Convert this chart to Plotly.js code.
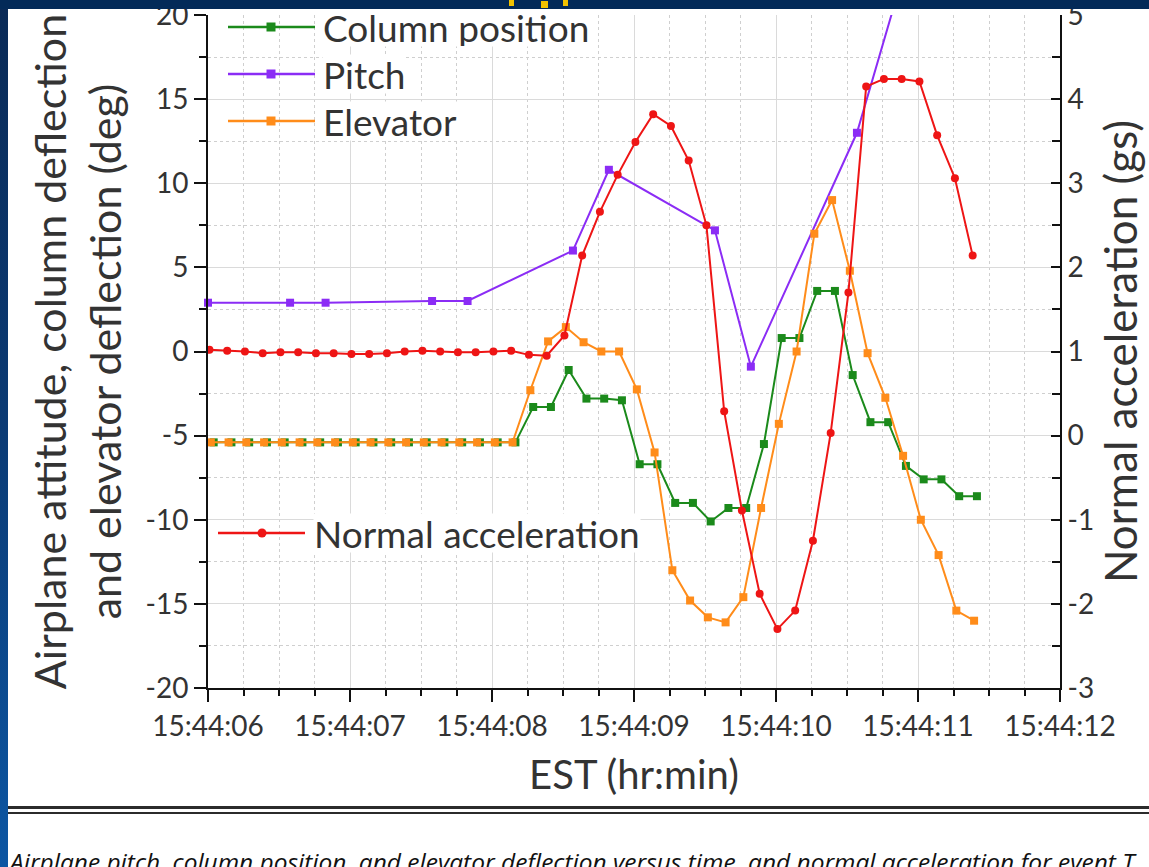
<!DOCTYPE html>
<html>
<head>
<meta charset="utf-8">
<script src="https://cdn.plot.ly/plotly-3.0.1.min.js"></script>
<style>
  html, body { margin:0; padding:0; width:1149px; height:867px; overflow:hidden; }
  body { background: linear-gradient(180deg, #0a2a56 0%, #0b3b75 50%, #0c56a3 100%); position:relative; }
  #topbar { position:absolute; left:0; top:0; width:1149px; height:9px; background:#032a58; }
  .yel { position:absolute; background:#f2c200; }
  #panel { position:absolute; left:8px; top:9px; width:1141px; height:858px; background:#ffffff; overflow:hidden; }
  #chart { position:absolute; left:0; top:0; width:1141px; height:858px; }
  .rule { position:absolute; left:0; width:1141px; background:#2b2b2b; }
  #caption { position:absolute; left:2px; top:836px; white-space:nowrap; font-family:"Open Sans", "Noto Sans", sans-serif; font-style:italic; font-size:24.5px; color:#111; }
</style>
</head>
<body>
<div id="topbar"></div>
<div class="yel" style="left:509px;top:0;width:5px;height:6px;"></div>
<div class="yel" style="left:541px;top:1px;width:7px;height:7px;"></div>
<div class="yel" style="left:563px;top:0;width:5px;height:6px;"></div>
<div id="panel">
  <div id="chart"></div>
  <div class="rule" style="top:797px;height:3px;"></div>
  <div class="rule" style="top:803px;height:2px;"></div>
  <div id="caption">Airplane pitch, column position, and elevator deflection versus time, and normal acceleration for event T</div>
</div>
<script>
// ---- data (seconds after 15:44:00) ----
const accT = [6.010, 6.135, 6.260, 6.385, 6.510, 6.635, 6.760, 6.885, 7.010, 7.135, 7.260, 7.385, 7.510, 7.635, 7.760, 7.885,
  8.010, 8.135, 8.260, 8.385, 8.510, 8.635, 8.760, 8.885, 9.010, 9.135, 9.260, 9.385, 9.510, 9.635, 9.760, 9.885,
  10.010, 10.135, 10.260, 10.385, 10.510, 10.635, 10.760, 10.885, 11.010, 11.135, 11.260, 11.385];
const accG = [1.02, 1.01, 1.00, 0.98, 0.99, 0.99, 0.98, 0.98, 0.97, 0.97, 0.98, 1.00, 1.01, 1.00, 0.99, 0.99,
  1.00, 1.01, 0.96, 0.95, 1.19, 2.14, 2.66, 3.10, 3.49, 3.82, 3.68, 3.27, 2.50, 0.29, -0.89, -1.88,
  -2.30, -2.08, -1.25, 0.03, 1.70, 4.15, 4.24, 4.24, 4.21, 3.57, 3.06, 2.14];

const elevT = [6.020, 6.145, 6.270, 6.395, 6.520, 6.645, 6.770, 6.895, 7.020, 7.145, 7.270, 7.395, 7.520, 7.645, 7.770, 7.895,
  8.020, 8.145, 8.270, 8.395, 8.520, 8.645, 8.770, 8.895, 9.020, 9.145, 9.270, 9.395, 9.520, 9.645, 9.770, 9.895,
  10.020, 10.145, 10.270, 10.395, 10.520, 10.645, 10.770, 10.895, 11.020, 11.145, 11.270, 11.395];
const elevatorDeg = [-5.4, -5.4, -5.4, -5.4, -5.4, -5.4, -5.4, -5.4, -5.4, -5.4, -5.4, -5.4, -5.4, -5.4, -5.4, -5.4,
  -5.4, -5.4, -2.3, 0.6, 1.45, 0.55, 0.0, 0.0, -2.25, -6.0, -13.0, -14.8, -15.8, -16.1, -14.6, -9.3,
  -4.3, 0.0, 7.0, 9.0, 4.8, -0.1, -2.75, -6.2, -10.0, -12.1, -15.4, -16.0];

const colT = [6.040, 6.165, 6.290, 6.415, 6.540, 6.665, 6.790, 6.915, 7.040, 7.165, 7.290, 7.415, 7.540, 7.665, 7.790, 7.915,
  8.040, 8.165, 8.290, 8.415, 8.540, 8.665, 8.790, 8.915, 9.040, 9.165, 9.290, 9.415, 9.540, 9.665, 9.790, 9.915,
  10.040, 10.165, 10.290, 10.415, 10.540, 10.665, 10.790, 10.915, 11.040, 11.165, 11.290, 11.415];
const columnDeg = [-5.4, -5.4, -5.4, -5.4, -5.4, -5.4, -5.4, -5.4, -5.4, -5.4, -5.4, -5.4, -5.4, -5.4, -5.4, -5.4,
  -5.4, -5.4, -3.3, -3.3, -1.1, -2.8, -2.8, -2.9, -6.7, -6.7, -9.0, -9.0, -10.1, -9.3, -9.3, -5.5,
  0.8, 0.8, 3.6, 3.6, -1.4, -4.2, -4.2, -6.8, -7.6, -7.6, -8.6, -8.6];

const pitchT = [6.000, 6.578, 6.828, 7.578, 7.828, 8.570, 8.823, 9.570, 9.823, 10.570, 10.823];
const pitchDeg = [2.9, 2.9, 2.9, 3.0, 3.0, 6.0, 10.8, 7.2, -0.9, 13.0, 20.3];

const seriesNames = ['Column position', 'Pitch', 'Elevator', 'Normal acceleration'];
const xRange = [6, 12];
const leftTickVals = [-20, -15, -10, -5, 0, 5, 10, 15, 20];
const leftTickText = ['-20', '-15', '-10', '-5', '0', '5', '10', '15', '20'];
const rightTickVals = [-3, -2, -1, 0, 1, 2, 3, 4, 5];
const rightTickText = ['-3', '-2', '-1', '0', '1', '2', '3', '4', '5'];

// ---- helpers ----
function ts(s) {
  const whole = Math.floor(s + 1e-9);
  const ms = Math.round((s - whole) * 1000);
  return '2000-01-01 15:44:' + String(whole).padStart(2, '0') + '.' + String(ms).padStart(3, '0');
}
const C = { col: '#1b8a1b', pitch: '#8b2cf5', elev: '#ff8c1a', acc: '#ee1515' };
const FONT = 'Lato, "Open Sans", sans-serif';
const TXT = '#333333';

const traces = [
  { name: seriesNames[1], x: pitchT.map(ts), y: pitchDeg, yaxis: 'y', mode: 'lines+markers',
    line: { color: C.pitch, width: 2 }, marker: { symbol: 'square', size: 8, color: C.pitch }, cliponaxis: false },
  { name: seriesNames[0], x: colT.map(ts), y: columnDeg, yaxis: 'y', mode: 'lines+markers',
    line: { color: C.col, width: 2 }, marker: { symbol: 'square', size: 8, color: C.col } },
  { name: seriesNames[2], x: elevT.map(ts), y: elevatorDeg, yaxis: 'y', mode: 'lines+markers',
    line: { color: C.elev, width: 2 }, marker: { symbol: 'square', size: 8, color: C.elev } },
  { name: seriesNames[3], x: accT.map(ts), y: accG, yaxis: 'y2', mode: 'lines+markers',
    line: { color: C.acc, width: 2 }, marker: { symbol: 'circle', size: 8, color: C.acc } }
];

// plot area in panel pixels
const PL = 200, PR = 1052, PT = 6, PB = 679;
const W = 1141, H = 858;
const px = v => (v - (PL + 8)) / (PR - PL);   // page x -> paper
const py = v => ((PB + 9) - v) / (PB - PT);   // page y -> paper

const shapes = [];
const annotations = [];
function legendItem(name, color, symbol, lineX0, lineX1, mx, textX, rowY) {
  shapes.push({ type: 'line', xref: 'paper', yref: 'paper', x0: px(lineX0), x1: px(lineX1), y0: py(rowY), y1: py(rowY),
    line: { color: color, width: 2.5 } });
  shapes.push({ type: symbol === 'circle' ? 'circle' : 'rect', xref: 'paper', yref: 'paper',
    xsizemode: 'pixel', ysizemode: 'pixel', xanchor: px(mx), yanchor: py(rowY),
    x0: -4.5, x1: 4.5, y0: -4.5, y1: 4.5, fillcolor: color, line: { color: color, width: 0 } });
  annotations.push({ xref: 'paper', yref: 'paper', x: px(textX), y: py(rowY), xanchor: 'left', yanchor: 'middle',
    text: name, showarrow: false, bgcolor: '#ffffff', borderpad: 0, height: 38, valign: 'middle',
    font: { family: FONT, size: 37, color: TXT } });
}
legendItem(seriesNames[0], C.col, 'square', 228, 315, 271, 322, 27);
legendItem(seriesNames[1], C.pitch, 'square', 228, 315, 271, 322, 74);
legendItem(seriesNames[2], C.elev, 'square', 228, 315, 271, 322, 121);
legendItem(seriesNames[3], C.acc, 'circle', 218, 305, 262, 313, 533);

const minorGrid = '#cfcfcf';
const majorGrid = '#dadada';

const layout = {
  width: W, height: H,
  margin: { l: PL, r: W - PR, t: PT, b: H - PB, pad: 0 },
  paper_bgcolor: 'rgba(0,0,0,0)', plot_bgcolor: '#ffffff',
  showlegend: false,
  font: { family: FONT, color: TXT },
  xaxis: {
    type: 'date', range: [ts(xRange[0]), ts(xRange[1])],
    tick0: ts(6), dtick: 1000, tickformat: '%H:%M:%S',
    ticks: 'outside', ticklen: 12, tickwidth: 2, tickcolor: '#111',
    showline: true, linecolor: '#111', linewidth: 2,
    showgrid: true, gridcolor: majorGrid, gridwidth: 1, zeroline: false,
    tickfont: { family: FONT, size: 28, color: TXT }, ticklabeloverflow: 'allow',
    minor: { dtick: 250, ticks: 'outside', ticklen: 6, tickwidth: 2, tickcolor: '#111',
      showgrid: true, gridcolor: minorGrid, griddash: 'dot', gridwidth: 1 },
    title: { text: 'EST (hr:min)', font: { family: FONT, size: 40, color: TXT }, standoff: 20 },
    automargin: false
  },
  yaxis: {
    range: [-20, 20], tickmode: 'array', tickvals: leftTickVals, ticktext: leftTickText,
    ticks: 'outside', ticklen: 12, tickwidth: 2, tickcolor: '#111',
    showline: true, linecolor: '#111', linewidth: 2,
    showgrid: true, gridcolor: majorGrid, gridwidth: 1, zeroline: false,
    tickfont: { family: FONT, size: 28, color: TXT }, ticklabeloverflow: 'allow',
    minor: { tickmode: 'linear', tick0: 0, dtick: 2.5, ticks: 'outside', ticklen: 7, tickwidth: 2, tickcolor: '#111',
      showgrid: true, gridcolor: minorGrid, griddash: 'dot', gridwidth: 1 },
    title: { text: 'Airplane attitude, column deflection<br>and elevator deflection (deg)',
      font: { family: FONT, size: 43, color: TXT }, standoff: 10 },
    automargin: false
  },
  yaxis2: {
    overlaying: 'y', side: 'right', range: [-3, 5], tickmode: 'array', tickvals: rightTickVals, ticktext: rightTickText,
    ticks: 'inside', ticklen: 9, tickwidth: 2, tickcolor: '#111',
    showline: true, linecolor: '#111', linewidth: 2,
    showgrid: false, zeroline: false,
    tickfont: { family: FONT, size: 28, color: TXT }, ticklabeloverflow: 'allow',
    minor: { tickmode: 'linear', tick0: 0, dtick: 0.5, ticks: 'inside', ticklen: 8, tickwidth: 2, tickcolor: '#111', showgrid: false },
    title: { text: 'Normal acceleration (gs)', font: { family: FONT, size: 44, color: TXT }, standoff: 8 },
    automargin: false
  },
  shapes: shapes,
  annotations: annotations
};

Plotly.newPlot('chart', traces, layout, { staticPlot: true, displayModeBar: false });
</script>
</body>
</html>
